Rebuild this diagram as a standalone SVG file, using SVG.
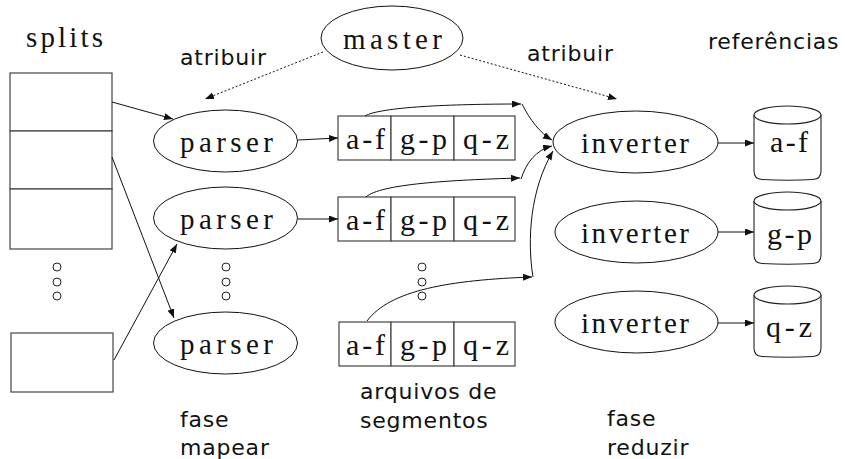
<svg xmlns="http://www.w3.org/2000/svg" width="845" height="459" viewBox="0 0 845 459">
<defs>
<marker id="ah" markerUnits="userSpaceOnUse" markerWidth="10" markerHeight="8" refX="9" refY="3.5" orient="auto">
<path d="M0,0 L9,3.5 L0,7 z" fill="#111"/>
</marker>
</defs>
<style>
.box{fill:#fff;stroke:#444;stroke-width:1.2}
.el{fill:#fff;stroke:#111;stroke-width:1}
.cyl{fill:#fff;stroke:#222;stroke-width:1.1}
.dot{fill:none;stroke:#222;stroke-width:1}
.serif{font-family:"Liberation Serif","DejaVu Serif",serif;font-size:29px;fill:#111}
.seg{font-family:"Liberation Serif","DejaVu Serif",serif;font-size:30px;fill:#111}
.sans{font-family:"DejaVu Sans","Liberation Sans",sans-serif;font-size:22px;letter-spacing:0.8px;fill:#111}
.ln{fill:none;stroke:#111;stroke-width:1;marker-end:url(#ah)}
.dl{fill:none;stroke:#111;stroke-width:1;stroke-dasharray:2,2;marker-end:url(#ah)}
</style>
<rect width="845" height="459" fill="#fff"/>

<g id="splits">
<text class="serif" x="26" y="47" textLength="77" lengthAdjust="spacing">splits</text>
<rect class="box" x="10" y="73" width="102" height="58"/>
<rect class="box" x="10" y="131" width="102" height="58"/>
<rect class="box" x="10" y="189" width="102" height="60"/>
<circle class="dot" cx="57" cy="267" r="4"/>
<circle class="dot" cx="57" cy="282" r="4"/>
<circle class="dot" cx="57" cy="296" r="4"/>
<rect class="box" x="11" y="333" width="102" height="59"/>
</g>

<g id="master">
<ellipse class="el" cx="392" cy="38" rx="71" ry="32"/>
<text class="serif" x="343" y="49" textLength="99" lengthAdjust="spacing">master</text>
</g>

<g id="parser1">
<ellipse class="el" cx="225.5" cy="141" rx="72" ry="31"/>
<text class="serif" x="180" y="152" textLength="93" lengthAdjust="spacing">parser</text>
</g>
<g id="parser2">
<ellipse class="el" cx="225.5" cy="218" rx="72" ry="31"/>
<text class="serif" x="180" y="229" textLength="93" lengthAdjust="spacing">parser</text>
</g>
<g id="parser-dots">
<circle class="dot" cx="226" cy="267" r="4"/>
<circle class="dot" cx="226" cy="282" r="4"/>
<circle class="dot" cx="226" cy="296" r="4"/>
</g>
<g id="parser3">
<ellipse class="el" cx="225.5" cy="343" rx="72" ry="31"/>
<text class="serif" x="180" y="354" textLength="93" lengthAdjust="spacing">parser</text>
</g>

<g id="segments1">
<rect class="box" x="338" y="116" width="53" height="44"/>
<rect class="box" x="391" y="116" width="63" height="44"/>
<rect class="box" x="454" y="116" width="61" height="44"/>
<text class="seg" x="346" y="149" textLength="39" lengthAdjust="spacing">a-f</text>
<text class="seg" x="400" y="149" textLength="47" lengthAdjust="spacing">g-p</text>
<text class="seg" x="463" y="149" textLength="46" lengthAdjust="spacing">q-z</text>
</g>
<g id="segments2">
<rect class="box" x="338" y="197" width="53" height="44"/>
<rect class="box" x="391" y="197" width="63" height="44"/>
<rect class="box" x="454" y="197" width="61" height="44"/>
<text class="seg" x="346" y="230" textLength="39" lengthAdjust="spacing">a-f</text>
<text class="seg" x="400" y="230" textLength="47" lengthAdjust="spacing">g-p</text>
<text class="seg" x="463" y="230" textLength="46" lengthAdjust="spacing">q-z</text>
</g>
<g id="segment-dots">
<circle class="dot" cx="422" cy="267" r="4"/>
<circle class="dot" cx="422" cy="282" r="4"/>
<circle class="dot" cx="422" cy="296" r="4"/>
</g>
<g id="segments3">
<rect class="box" x="339" y="322" width="52" height="44"/>
<rect class="box" x="391" y="322" width="63" height="44"/>
<rect class="box" x="454" y="322" width="61" height="44"/>
<text class="seg" x="346" y="355" textLength="39" lengthAdjust="spacing">a-f</text>
<text class="seg" x="400" y="355" textLength="47" lengthAdjust="spacing">g-p</text>
<text class="seg" x="463" y="355" textLength="46" lengthAdjust="spacing">q-z</text>
</g>

<g id="inverter1">
<ellipse class="el" cx="635.5" cy="142" rx="82.5" ry="31"/>
<text class="serif" x="581" y="153" textLength="108" lengthAdjust="spacing">inverter</text>
</g>
<g id="inverter2">
<ellipse class="el" cx="636.5" cy="232" rx="81.5" ry="31"/>
<text class="serif" x="581" y="243" textLength="108" lengthAdjust="spacing">inverter</text>
</g>
<g id="inverter3">
<ellipse class="el" cx="636.5" cy="322" rx="81.5" ry="31"/>
<text class="serif" x="581" y="333" textLength="108" lengthAdjust="spacing">inverter</text>
</g>

<g id="ref1">
<path class="cyl" d="M754,115 V171 Q754,179 762,179.5 Q787.5,181 813,179.5 Q821,179 821,171 V115"/>
<ellipse class="cyl" cx="787.5" cy="115" rx="33.5" ry="9"/>
<text class="seg" x="770" y="152" textLength="38" lengthAdjust="spacing">a-f</text>
</g>
<g id="ref2">
<path class="cyl" d="M754,201 V255 Q754,263 762,263.5 Q787.5,265 813,263.5 Q821,263 821,255 V201"/>
<ellipse class="cyl" cx="787.5" cy="201" rx="33.5" ry="9"/>
<text class="seg" x="767" y="244" textLength="45" lengthAdjust="spacing">g-p</text>
</g>
<g id="ref3">
<path class="cyl" d="M754,295 V348 Q754,356 762,356.5 Q787.5,358 813,356.5 Q821,356 821,348 V295"/>
<ellipse class="cyl" cx="787.5" cy="295" rx="33.5" ry="9"/>
<text class="seg" x="766" y="337" textLength="46" lengthAdjust="spacing">q-z</text>
</g>

<g id="labels">
<text class="sans" x="180" y="65">atribuir</text>
<text class="sans" x="527" y="61">atribuir</text>
<text class="sans" x="708" y="49">referências</text>
<text class="sans" x="180" y="427">fase</text>
<text class="sans" x="180" y="455">mapear</text>
<text class="sans" x="360" y="399">arquivos de</text>
<text class="sans" x="360" y="428">segmentos</text>
<text class="sans" x="607" y="426">fase</text>
<text class="sans" x="607" y="455">reduzir</text>
</g>

<g id="connectors">
<path class="dl" d="M323,52 L205,99"/>
<path class="dl" d="M460,55 L617,99"/>
<path class="ln" d="M112,102 L173,119"/>
<path class="ln" d="M112,157 L174,318"/>
<path class="ln" d="M114,360 L177,244"/>
<path class="ln" d="M298,140 L338,138"/>
<path class="ln" d="M298,219 L338,219"/>
<path class="ln" d="M365,116 C380,107 450,104 521,104"/>
<path class="ln" d="M522,104 C530,120 540,133 552,140"/>
<path class="ln" d="M366,197 C380,184 450,180 520,178"/>
<path class="ln" d="M521,179 C526,163 536,150 552,146"/>
<path class="ln" d="M367,321 C390,290 450,280 532,277"/>
<path class="ln" d="M533,277 C527,240 530,190 553,151"/>
<path class="ln" d="M718,143 L754,143"/>
<path class="ln" d="M718,232 L754,232"/>
<path class="ln" d="M718,323 L754,323"/>
</g>
</svg>
